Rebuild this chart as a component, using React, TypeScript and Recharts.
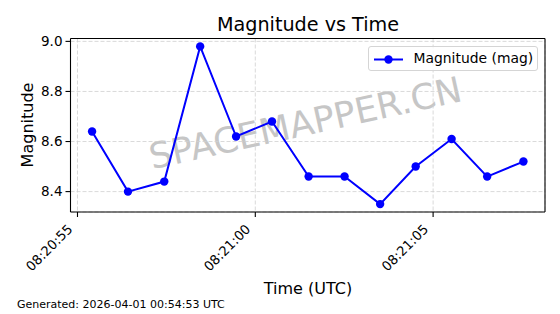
import React from 'react';
import { LineChart, Line, XAxis, YAxis, CartesianGrid, Legend, ReferenceLine } from 'recharts';

const timeLabels = [
  '08:20:55.41', '08:20:56.42', '08:20:57.44', '08:20:58.45', '08:20:59.46',
  '08:21:00.47', '08:21:01.50', '08:21:02.51', '08:21:03.51', '08:21:04.51',
  '08:21:05.52', '08:21:06.52', '08:21:07.54'
];
const magnitudes = [8.64, 8.40, 8.44, 8.98, 8.62, 8.68, 8.46, 8.46, 8.35, 8.50, 8.61, 8.46, 8.52];
const xTickLabels = ['08:20:55', '08:21:00', '08:21:05'];
const yTicks = [8.4, 8.6, 8.8, 9.0];

const FONT = '"DejaVu Sans", sans-serif';

const toSeconds = (s: string) => {
  const [h, m, sec] = s.split(':');
  return Number(h) * 3600 + Number(m) * 60 + Number(sec);
};

const pad2 = (n: number) => String(n).padStart(2, '0');
const fmtTime = (v: number) => {
  const t = Math.round(v);
  return `${pad2(Math.floor(t / 3600))}:${pad2(Math.floor((t % 3600) / 60))}:${pad2(t % 60)}`;
};

const data = timeLabels.map((t, i) => ({ t: toSeconds(t), mag: magnitudes[i] }));

// matplotlib-like 5% margins
const withMargin = (vals: number[]) => {
  const lo = Math.min(...vals);
  const hi = Math.max(...vals);
  const m = (hi - lo) * 0.05;
  return [lo - m, hi + m];
};
const xDomain = withMargin(data.map(d => d.t));
const yDomain = withMargin(magnitudes);
const xTicks = xTickLabels.map(toSeconds);

const XTick = (props: any) => {
  const { x, y, payload } = props;
  return (
    <g transform={`translate(${x - 4},${y + 13})`}>
      <text x={0} y={0} textAnchor="end" transform="rotate(-45)" fontSize={13.2} fontFamily={FONT} fill="#000">
        {fmtTime(payload.value)}
      </text>
    </g>
  );
};

const LegendBox = () => (
  <div style={{
    width: 170, height: 25, boxSizing: 'border-box', border: '1px solid #d5d5d5', borderRadius: 3,
    background: 'rgba(255,255,255,0.8)', position: 'relative', fontFamily: FONT, fontSize: 13.9, color: '#000'
  }}>
    <svg width={40} height={25} style={{ position: 'absolute', left: 0, top: 0 }}>
      <line x1={5} x2={34} y1={12.5} y2={12.5} stroke="#0000ff" strokeWidth={2} />
      <circle cx={19.5} cy={12.5} r={4.2} fill="#0000ff" />
    </svg>
    <span style={{ position: 'absolute', left: 44.5, top: 3, lineHeight: '17px', whiteSpace: 'nowrap' }}>
      Magnitude (mag)
    </span>
  </div>
);

export default function App() {
  return (
    <div style={{ position: 'absolute', left: 0, top: 0, width: 560, height: 314, background: '#fff' }}>
      <svg width={560} height={314} style={{ position: 'absolute', left: 0, top: 0 }}>
        <text x={308} y={31} textAnchor="middle" fontSize={19.2} fontFamily={FONT} fill="#000">Magnitude vs Time</text>
        <text x={308} y={294} textAnchor="middle" fontSize={16} fontFamily={FONT} fill="#000">Time (UTC)</text>
        <text x={33} y={125} textAnchor="middle" fontSize={16} fontFamily={FONT} fill="#000" transform="rotate(-90 33 125)">Magnitude</text>
        <text x={17} y={308} fontSize={11} fontFamily={FONT} fill="#000">Generated: 2026-04-01 00:54:53 UTC</text>
        <text x={308} y={135} textAnchor="middle" fontSize={35.5} fontFamily={FONT} fill="#c6c6c6" transform="rotate(-12.4 308 135)">SPACEMAPPER.CN</text>
      </svg>
      <div style={{ position: 'absolute', left: 0, top: 0 }}>
        <LineChart width={560} height={314} data={data} margin={{ top: 38.5, right: 15, left: 0, bottom: 0 }}>
          <CartesianGrid stroke="#cfcfcf" strokeDasharray="4 2" strokeWidth={0.8} />
          <XAxis
            dataKey="t"
            type="number"
            domain={xDomain}
            ticks={xTicks}
            tick={<XTick />}
            height={102}
            tickSize={5}
            tickMargin={0}
            interval={0}
            allowDataOverflow
            stroke="#000"
            axisLine={{ stroke: '#000', strokeWidth: 1.1 }}
            tickLine={{ stroke: '#000', strokeWidth: 1.1 }}
          />
          <YAxis
            type="number"
            domain={yDomain}
            ticks={yTicks}
            allowDataOverflow
            width={70.5}
            tickSize={5}
            tickMargin={3}
            tickFormatter={(v: number) => v.toFixed(1)}
            tick={{ fill: '#000', fontSize: 13.5, fontFamily: FONT }}
            axisLine={{ stroke: '#000', strokeWidth: 1.1 }}
            tickLine={{ stroke: '#000', strokeWidth: 1.1 }}
          />
          <ReferenceLine y={yDomain[1]} stroke="#000" strokeWidth={1.1} />
          <ReferenceLine x={xDomain[1]} stroke="#000" strokeWidth={1.1} />
          <Legend
            layout="horizontal"
            verticalAlign="middle"
            align="center"
            content={() => <LegendBox />}
            wrapperStyle={{ position: 'absolute', left: 368, top: 45.5, width: 170, height: 25 }}
          />
          <Line
            type="linear"
            dataKey="mag"
            name="Magnitude (mag)"
            stroke="#0000ff"
            strokeWidth={2}
            dot={{ r: 4.2, fill: '#0000ff', stroke: '#0000ff', strokeWidth: 0 }}
            activeDot={false}
            isAnimationActive={false}
          />
        </LineChart>
      </div>
    </div>
  );
}
